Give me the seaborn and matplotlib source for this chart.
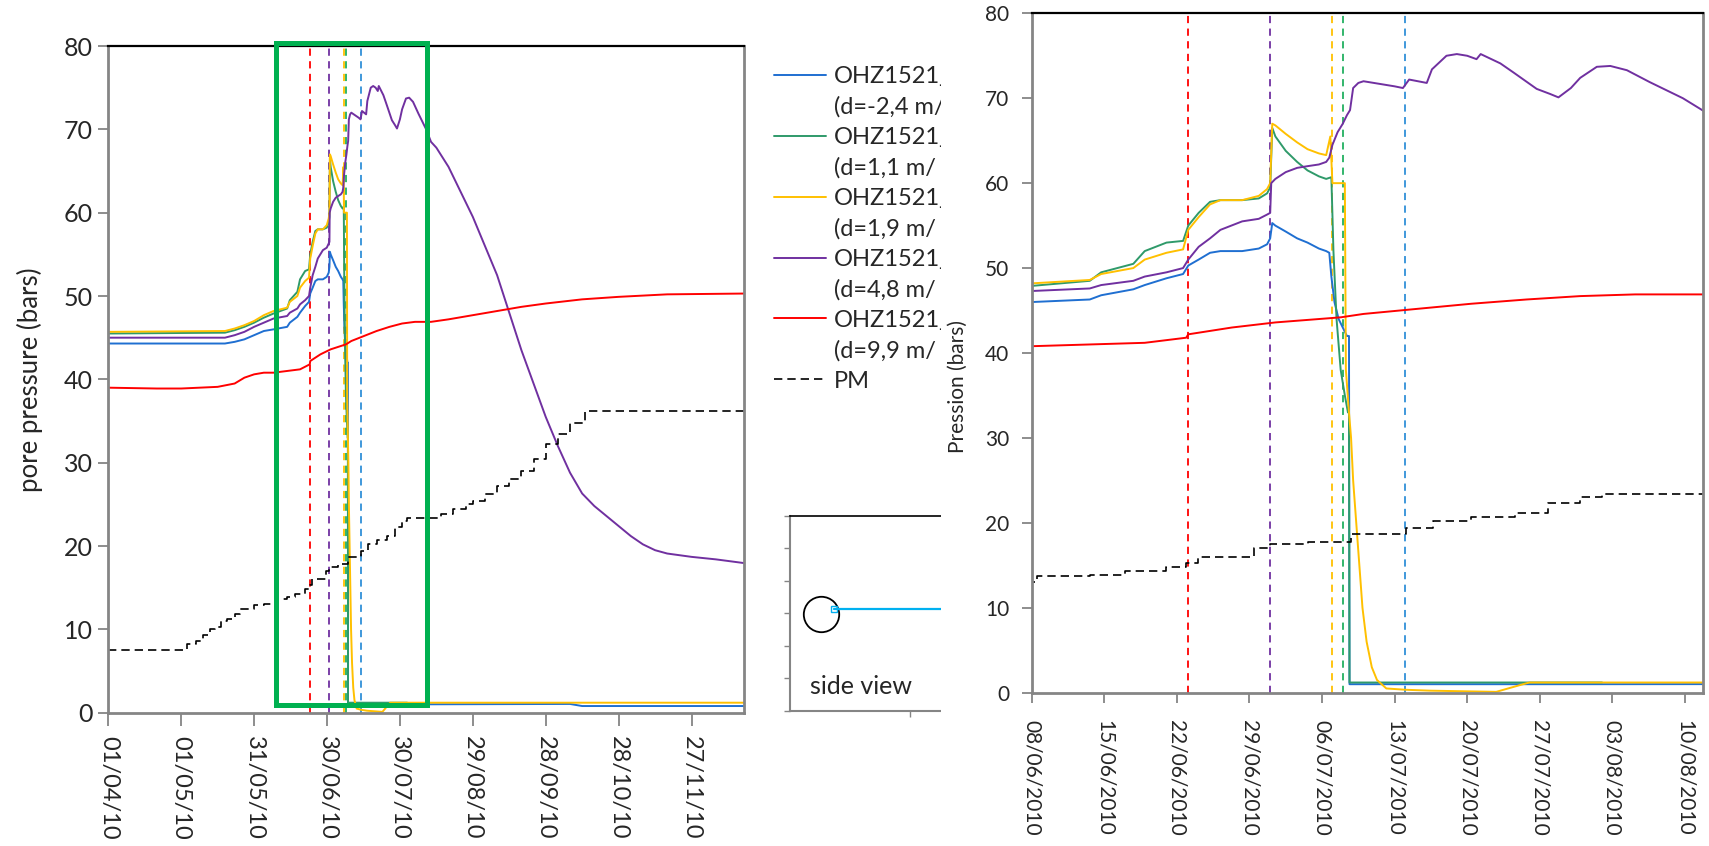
import numpy as np
import pandas as pd
import matplotlib
matplotlib.use("Agg")
import matplotlib.pyplot as plt
import matplotlib.dates as mdates
from matplotlib import font_manager
from matplotlib.patches import Rectangle
from matplotlib.lines import Line2D
import seaborn as sns

# ---------------- data (x = days since 01/04/2010) ----------------
blue_days = [0, 48, 52, 56, 60, 64, 68, 73.6, 74.7, 77.8, 78.9, 81, 82.6, 83.1, 84.1, 85.2, 86.2, 88.3,
             89.9, 90.7, 91.0, 91.2, 91.5, 92.5, 93.6, 94.6, 95.7, 96.4, 96.7, 96.9, 97.2, 97.6, 98.0,
             98.4, 98.6, 98.65, 120, 190, 195, 263]
blue_vals = [44.3, 44.3, 44.5, 44.8, 45.3, 45.8, 46.0, 46.3, 46.8, 47.5, 48.0, 48.8, 49.3, 50.3, 51.0,
             51.8, 52.0, 52.0, 52.3, 52.8, 53.5, 55.3, 55.0, 54.3, 53.5, 53.0, 52.3, 52.0, 51.8, 49.0,
             46.0, 44.0, 43.0, 42.0, 42.0, 1.0, 1.0, 1.05, 0.8, 0.8]

green_days = [0, 48, 52, 56, 60, 64, 68, 73.6, 74.7, 77.8, 78.9, 81, 82.6, 83.1, 84.1, 85.2, 86.2, 88.3,
              89.9, 90.7, 91.0, 91.2, 91.5, 92.5, 93.6, 94.6, 95.7, 96.4, 96.9, 97.1, 97.4, 97.8, 98.2,
              98.5, 98.6, 98.65, 123]
green_vals = [45.5, 45.6, 45.9, 46.3, 46.8, 47.4, 47.9, 48.5, 49.5, 50.5, 52.0, 53.0, 53.2, 55.0, 56.5,
              57.8, 58.0, 58.0, 58.2, 58.8, 59.5, 66.5, 65.5, 63.8, 62.5, 61.5, 60.8, 60.5, 60.7, 52.0,
              44.0, 38.0, 35.0, 33.0, 33.0, 1.2, 1.2]

yellow_days = [0, 48, 52, 56, 60, 64, 68, 73.6, 74.7, 77.8, 78.9, 81, 82.6, 83.1, 84.1, 85.2, 86.2, 88.3,
               89.9, 90.7, 91.0, 91.2, 91.5, 92.5, 93.6, 94.6, 95.7, 96.4, 96.8, 97.0, 98.2, 98.3, 98.6,
               98.8, 99.0, 99.3, 99.6, 99.9, 100.3, 100.8, 101.3, 102.2, 104, 106.4, 112.8, 113.8, 115.1,
               116, 263]
yellow_vals = [45.7, 45.8, 46.1, 46.5, 47.0, 47.7, 48.2, 48.6, 49.3, 50.0, 51.0, 51.8, 52.2, 54.5, 56.0,
               57.5, 58.0, 58.0, 58.5, 59.3, 60.0, 67.0, 66.8, 65.8, 64.8, 64.0, 63.5, 63.3, 65.5, 60.0,
               60.0, 38.0, 33.0, 30.0, 25.0, 20.0, 15.0, 10.0, 6.0, 3.0, 1.5, 0.5, 0.35, 0.24, 0.1, 0.45,
               0.9, 1.2, 1.2]

purple_days = [0, 48, 52, 56, 60, 64, 68, 73.6, 74.7, 77.8, 78.9, 81, 82.6, 83.1, 84.1, 85.2, 86.2, 88.3,
               89.9, 90.7, 91.0, 91.1, 91.5, 92.5, 93.6, 94.6, 95.7, 96.4, 96.7, 97.0, 97.5, 98.0, 98.4,
               98.7, 99.0, 99.5, 100, 101, 103, 103.8, 104.4, 106.1, 106.6, 108, 109, 110, 110.9, 111.3,
               113.2, 114.5, 116.7, 118, 118.8, 120, 120.9, 122.5, 123.8, 125.4, 127.6, 130.8, 132.8,
               135, 140, 145, 150, 155, 160, 165, 170, 175, 180, 185, 190, 195, 200, 205, 210, 215, 220,
               225, 230, 240, 250, 263]
purple_vals = [45.0, 45.0, 45.3, 45.7, 46.3, 46.8, 47.3, 47.6, 48.0, 48.5, 49.0, 49.5, 50.0, 51.0, 52.5,
               53.5, 54.5, 55.5, 55.8, 56.3, 56.5, 60.0, 60.5, 61.3, 61.8, 62.0, 62.2, 62.5, 63.0, 64.5,
               66.0, 67.0, 68.0, 68.6, 71.2, 71.8, 72.0, 71.8, 71.4, 71.2, 72.2, 71.8, 73.4, 75.0, 75.2,
               75.0, 74.6, 75.2, 74.1, 73.0, 71.1, 70.5, 70.1, 71.2, 72.4, 73.7, 73.8, 73.3, 71.9, 70.0,
               68.5, 67.8, 65.5, 62.5, 59.5, 56.0, 52.5, 48.0, 43.5, 39.5, 35.5, 32.0, 28.8, 26.3, 24.8,
               23.6, 22.4, 21.2, 20.2, 19.5, 19.1, 18.7, 18.4, 17.9]

red_days = [0, 20, 30, 45, 52, 56, 60, 64, 68, 78.9, 82.9, 83.1, 87.3, 91.5, 97.8, 100, 105.2, 110.4,
            115.7, 120.9, 126.2, 132.8, 140, 150, 160, 170, 180, 195, 210, 230, 263]
red_vals = [39.0, 38.9, 38.9, 39.1, 39.5, 40.2, 40.6, 40.8, 40.8, 41.2, 41.8, 42.2, 43.0, 43.6, 44.2, 44.6,
            45.2, 45.8, 46.3, 46.7, 46.9, 46.9, 47.2, 47.7, 48.2, 48.7, 49.1, 49.6, 49.9, 50.2, 50.3]

pm_days = [0, 32.5, 36, 39, 42, 44, 46.5, 49, 52, 54, 57, 60, 64, 68.5, 73.6, 77, 81, 82.9, 84, 89.4, 91,
           94.6, 98.8, 104.1, 106.7, 110.4, 114.6, 117.8, 120.9, 123, 137, 142, 147, 150, 155, 160, 165,
           170, 175, 180, 185, 190, 196, 263]
pm_vals = [7.5, 8.3, 8.6, 9.3, 10.0, 10.3, 11.0, 11.3, 11.8, 12.5, 12.5, 12.9, 13.0, 13.7, 13.9, 14.3,
           14.8, 15.3, 16.0, 17.0, 17.5, 17.8, 18.7, 19.4, 20.2, 20.7, 21.2, 22.3, 23.0, 23.4, 23.8, 24.5,
           25.0, 25.4, 26.2, 27.2, 28.0, 29.0, 30.5, 32.3, 33.5, 34.8, 36.2, 36.2]

legend_name = "OHZ1521_"
legend_depths = ["(d=-2,4 m/", "(d=1,1 m/", "(d=1,9 m/", "(d=4,8 m/", "(d=9,9 m/"]
pm_label = "PM"

event_days = [83.1, 91.0, 97.0, 98.0, 104.0]     # red, purple, yellow, green, blue dashed lines

left_ticks = ["01/04/10", "01/05/10", "31/05/10", "30/06/10", "30/07/10", "29/08/10",
              "28/09/10", "28/10/10", "27/11/10"]
right_ticks = ["08/06/2010", "15/06/2010", "22/06/2010", "29/06/2010", "06/07/2010", "13/07/2010",
               "20/07/2010", "27/07/2010", "03/08/2010", "10/08/2010"]
yticks = [0, 10, 20, 30, 40, 50, 60, 70, 80]

left_xlim_days = (0, 261.6)
right_xlim_days = (68, 132.77)
zoom_box_days = (68.9, 131.0)   # green frame on the left chart
zoom_box_vals = (0.93, 80.4)

# ---------------- style ----------------
sns.set_style("white")
plt.rcParams['font.family'] = ['Lato', 'DejaVu Sans']

_names = {f.name for f in font_manager.fontManager.ttflist}
if 'Liberation Sans Narrow' in _names:
    NARROW, NARROW_SIZE, NARROW_X = 'Liberation Sans Narrow', 23.5, 22
else:
    NARROW, NARROW_SIZE, NARROW_X = 'Lato', 18, 17

series_colors = ['#1f6fd1', '#2f9a6a', '#ffc000', '#7030a0', '#ff0000']
event_colors = ['#ff0000', '#7030a0', '#ffc000', '#22b060', '#3090d8']
GRAY = '#858585'

T0 = pd.Timestamp("2010-04-01")


def to_dates(days):
    return T0 + pd.to_timedelta(np.asarray(days, dtype=float), unit="D")


W, H = 1709, 846
fig = plt.figure(figsize=(W / 100, H / 100), dpi=100)


def box(l, t, r, b):
    return [l / W, 1 - b / H, (r - l) / W, (b - t) / H]


axL = fig.add_axes(box(108.3, 46, 744, 712.7), zorder=0)
axI = fig.add_axes(box(790, 515.7, 970, 711), zorder=0.5)
axR = fig.add_axes(box(1031.7, 13.3, 1703.3, 692.7), zorder=2)

# white area hiding the part of the left figure that lies under the right one
fig.add_artist(Rectangle((941 / W, 0), 1 - 941 / W, 1, transform=fig.transFigure,
                         facecolor='white', edgecolor='none', zorder=1))

all_series = [(blue_days, blue_vals), (green_days, green_vals), (yellow_days, yellow_vals),
              (purple_days, purple_vals), (red_days, red_vals)]

for ax in (axL, axR):
    for (d, v), c in zip(all_series, series_colors):
        sns.lineplot(x=to_dates(d), y=v, ax=ax, color=c, lw=1.4, estimator=None, sort=False)
    sns.lineplot(x=to_dates(pm_days), y=pm_vals, ax=ax, color='black', lw=1.2,
                 linestyle=(0, (5, 3)), drawstyle='steps-post', estimator=None, sort=False)
    for d, c in zip(event_days, event_colors):
        ax.axvline(to_dates([d])[0], color=c, lw=1.3, linestyle=(0, (4, 3)), zorder=1)
    ax.set_ylim(0, 80)
    ax.set_yticks(yticks)
    ax.set_yticklabels([str(y) for y in yticks])
    for s in ('left', 'bottom', 'right'):
        ax.spines[s].set_color(GRAY)
        ax.spines[s].set_linewidth(2.0)
    ax.spines['top'].set_color('black')
    ax.spines['top'].set_linewidth(1.6)
    ax.tick_params(axis='both', direction='out', color=GRAY, width=1.3, length=7,
                   left=True, bottom=True)
    ax.grid(False)
    ax.set_xlabel("")

# left axes
axL.set_xlim(to_dates([left_xlim_days[0]])[0], to_dates([left_xlim_days[1]])[0])
lt = pd.to_datetime(left_ticks, format="%d/%m/%y")
axL.set_xticks(lt)
axL.set_xticklabels(left_ticks, rotation=-90, ha='center', va='top',
                    family=NARROW, fontsize=NARROW_X)
axL.set_yticklabels([str(y) for y in yticks], family=NARROW, fontsize=NARROW_SIZE)
axL.tick_params(axis='x', length=9, pad=8)
axL.tick_params(axis='y', pad=4)
axL.set_ylabel("pore pressure (bars)", fontsize=18.5)
axL.yaxis.set_label_coords(-0.103, 0.5)

x0 = mdates.date2num(to_dates([zoom_box_days[0]])[0])
x1 = mdates.date2num(to_dates([zoom_box_days[1]])[0])
axL.add_patch(Rectangle((x0, zoom_box_vals[0]), x1 - x0, zoom_box_vals[1] - zoom_box_vals[0],
                        fill=False, edgecolor='#00b050', lw=3.6, clip_on=False, zorder=6))

handles, labels = [], []
for c, dl in zip(series_colors, legend_depths):
    handles += [Line2D([], [], color=c, lw=1.4), Line2D([], [], color='none')]
    labels += [legend_name, dl]
handles.append(Line2D([], [], color='black', lw=1.2, linestyle=(0, (5, 3))))
labels.append(pm_label)
axL.legend(handles, labels, loc='upper left', bbox_to_anchor=(774 / W, 1 - 66 / H),
           bbox_transform=fig.transFigure, frameon=False, fontsize=17, handlelength=2.2,
           handletextpad=0.35, labelspacing=0.39, borderpad=0, borderaxespad=0)

# right axes
axR.set_xlim(to_dates([right_xlim_days[0]])[0], to_dates([right_xlim_days[1]])[0])
rt = pd.to_datetime(right_ticks, format="%d/%m/%Y")
axR.set_xticks(rt)
axR.set_xticklabels(right_ticks, rotation=-90, ha='center', va='top')
axR.tick_params(axis='x', labelsize=15, pad=13)
axR.tick_params(axis='y', labelsize=15, pad=9)
axR.set_ylabel("Pression (bars)", fontsize=15)
axR.yaxis.set_label_coords(-0.095, 0.45)
axR.set_facecolor('white')

# side view sketch
axI.set_xlim(0, 6)
axI.set_ylim(0, 6)
axI.set_xticks([4])
axI.set_yticks(range(7))
axI.set_xticklabels([])
axI.set_yticklabels([])
axI.spines['right'].set_visible(False)
axI.spines['top'].set_color('black')
axI.spines['top'].set_linewidth(1.2)
for s in ('left', 'bottom'):
    axI.spines[s].set_color(GRAY)
    axI.spines[s].set_linewidth(1.5)
axI.tick_params(direction='out', color=GRAY, length=4, width=1, left=True, bottom=True)
axI.plot([1.02], [2.98], marker='o', ms=25.5, mfc='none', mec='black', mew=1.3)
axI.plot([1.45, 6], [3.12, 3.12], color='#00b0f0', lw=1.6)
axI.plot([1.45], [3.12], marker='s', ms=4, mfc='none', mec='#00b0f0', mew=1)
axI.text(0.67, 0.74, "side view", fontsize=18, va='center', ha='left')

fig.savefig("out.png", dpi=100, facecolor='white')
